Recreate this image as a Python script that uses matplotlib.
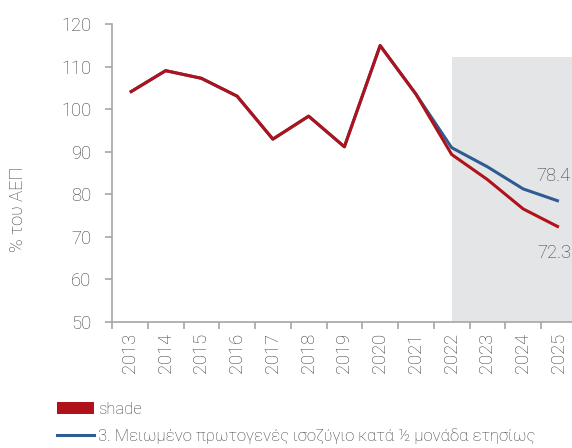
import numpy as np
import matplotlib
matplotlib.use("Agg")
import matplotlib.pyplot as plt
from matplotlib.patches import Patch
from matplotlib.lines import Line2D

plt.rcParams['font.family'] = ['Roboto', 'DejaVu Sans']

years = ['2013', '2014', '2015', '2016', '2017', '2018', '2019', '2020',
         '2021', '2022', '2023', '2024', '2025']
baseline = [104.0, 109.1, 107.3, 103.1, 93.0, 98.4, 91.2, 115.0, 103.6,
            89.4, 83.5, 76.6, 72.3]
scenario3 = [104.0, 109.1, 107.3, 103.1, 93.0, 98.4, 91.2, 115.0, 103.6,
             91.0, 86.5, 81.3, 78.4]
shade_start = '2022'
shade_top = 112.2
legend_shade = 'shade'
legend_s3 = '3. Μειωμένο πρωτογενές ισοζύγιο κατά ½ μονάδα ετησίως'
ylabel = '% του ΑΕΠ'

RED = '#B0121B'
BLUE = '#2F5B93'
SHADE = '#E4E5E7'
TXT = '#3C3C3C'
AX = '#A6A6A6'
FS = 13.2

W, H = 572, 448
fig = plt.figure(figsize=(W / 100, H / 100), dpi=100)
left = 112 / W
right = 576.75 / W
bottom = 1 - 322 / H
top = 1 - 24.3 / H
ax = fig.add_axes([left, bottom, right - left, top - bottom])

x = np.arange(len(years))
i0 = years.index(shade_start)
ax.fill_between([x[i0], len(years) - 0.5], 0, shade_top, color=SHADE, lw=0, zorder=0)

ax.plot(x, scenario3, color=BLUE, lw=2.2, zorder=2, solid_capstyle='butt')
ax.plot(x, baseline, color=RED, lw=2.2, zorder=3, solid_capstyle='butt')

ax.set_xlim(-0.5, len(years) - 0.5)
ax.set_ylim(50, 120)
ax.set_yticks(np.arange(50, 121, 10))

ax.set_xticks(x)
ax.set_xticklabels(years, rotation=90, fontsize=FS, color=TXT, fontweight='light')
ax.set_xticks(np.arange(len(years) + 1) - 0.5, minor=True)
ax.tick_params(axis='x', which='major', length=0, pad=8)
ax.tick_params(axis='x', which='minor', length=5, width=1.2, color=AX)
ax.tick_params(axis='y', length=5, width=1.2, color=AX, labelsize=FS,
               labelcolor=TXT, pad=10)
for lab in ax.get_yticklabels():
    lab.set_fontweight('light')

for s in ['top', 'right']:
    ax.spines[s].set_visible(False)
for s in ['left', 'bottom']:
    ax.spines[s].set_color(AX)
    ax.spines[s].set_linewidth(1.2)

ax.annotate(f'{scenario3[-1]:.1f}', (x[-1], scenario3[-1]), xytext=(12, 25),
            textcoords='offset pixels', ha='right', va='center',
            fontsize=FS, color=TXT, fontweight='light')
ax.annotate(f'{baseline[-1]:.1f}', (x[-1], baseline[-1]), xytext=(12, -26),
            textcoords='offset pixels', ha='right', va='center',
            fontsize=FS, color=TXT, fontweight='light')

fig.text(18 / W, 1 - 209 / H, ylabel, rotation=90, ha='center', va='center',
         fontsize=13.2, color=TXT, fontweight='light')

handles = [Patch(facecolor=RED, edgecolor='none'),
           Line2D([0], [0], color=BLUE, lw=2.2)]
leg = fig.legend(handles, [legend_shade, legend_s3], loc='upper left',
                 bbox_to_anchor=(57 / W, 1 - 402 / H), frameon=False,
                 fontsize=12, labelcolor=TXT, handlelength=2.2,
                 handleheight=0.75, handletextpad=0.25, labelspacing=0.7,
                 borderpad=0, borderaxespad=0)
for t in leg.get_texts():
    t.set_fontweight('light')

fig.savefig('out.png', dpi=100)
